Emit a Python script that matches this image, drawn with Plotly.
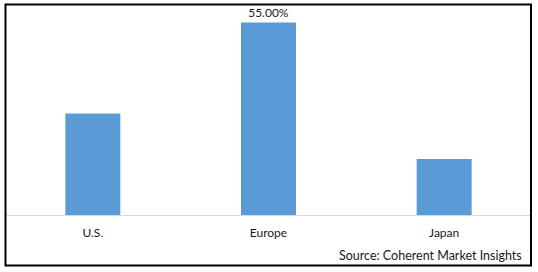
import plotly.graph_objects as go

categories = ["U.S.", "Europe", "Japan"]
shares = [29.0, 55.0, 16.0]
bar_labels = ["", "55.00%", ""]
source_text = "Source: Coherent Market Insights"

W, H = 538, 272

fig = go.Figure(go.Bar(
    x=categories, y=shares, text=bar_labels, textposition="outside",
    marker=dict(color="#5B9BD5", line=dict(width=0)),
    width=0.313, cliponaxis=False,
    textfont=dict(family="Lato", size=12, color="#1a1a1a"),
    hoverinfo="skip",
))

fig.update_layout(
    width=W, height=H,
    margin=dict(l=0, r=0, t=0, b=0),
    paper_bgcolor="white", plot_bgcolor="white",
    showlegend=False,
    font=dict(family="Lato", size=12, color="#1a1a1a"),
    xaxis=dict(domain=[5 / W, 532 / W], showgrid=False, zeroline=False,
               showline=True, linecolor="#d9d9d9", linewidth=1,
               ticks="outside", ticklen=7, tickcolor="rgba(0,0,0,0)",
               tickfont=dict(family="Lato", size=12, color="#1a1a1a")),
    yaxis=dict(domain=[(H - 215) / H, (H - 5) / H], range=[0, 60],
               showgrid=False, zeroline=False, showticklabels=False,
               showline=False),
    shapes=[dict(type="rect", xref="paper", yref="paper",
                 x0=5.5 / W, x1=531 / W, y0=(H - 265.5) / H, y1=(H - 4.5) / H,
                 line=dict(color="#000000", width=2), layer="above")],
    annotations=[dict(text=source_text, xref="paper", yref="paper",
                      x=524 / W, y=(H - 255) / H, xanchor="right", yanchor="middle",
                      showarrow=False,
                      font=dict(family="Lato", size=12.5, color="#1a1a1a"))],
)

fig.write_html("out.html")
